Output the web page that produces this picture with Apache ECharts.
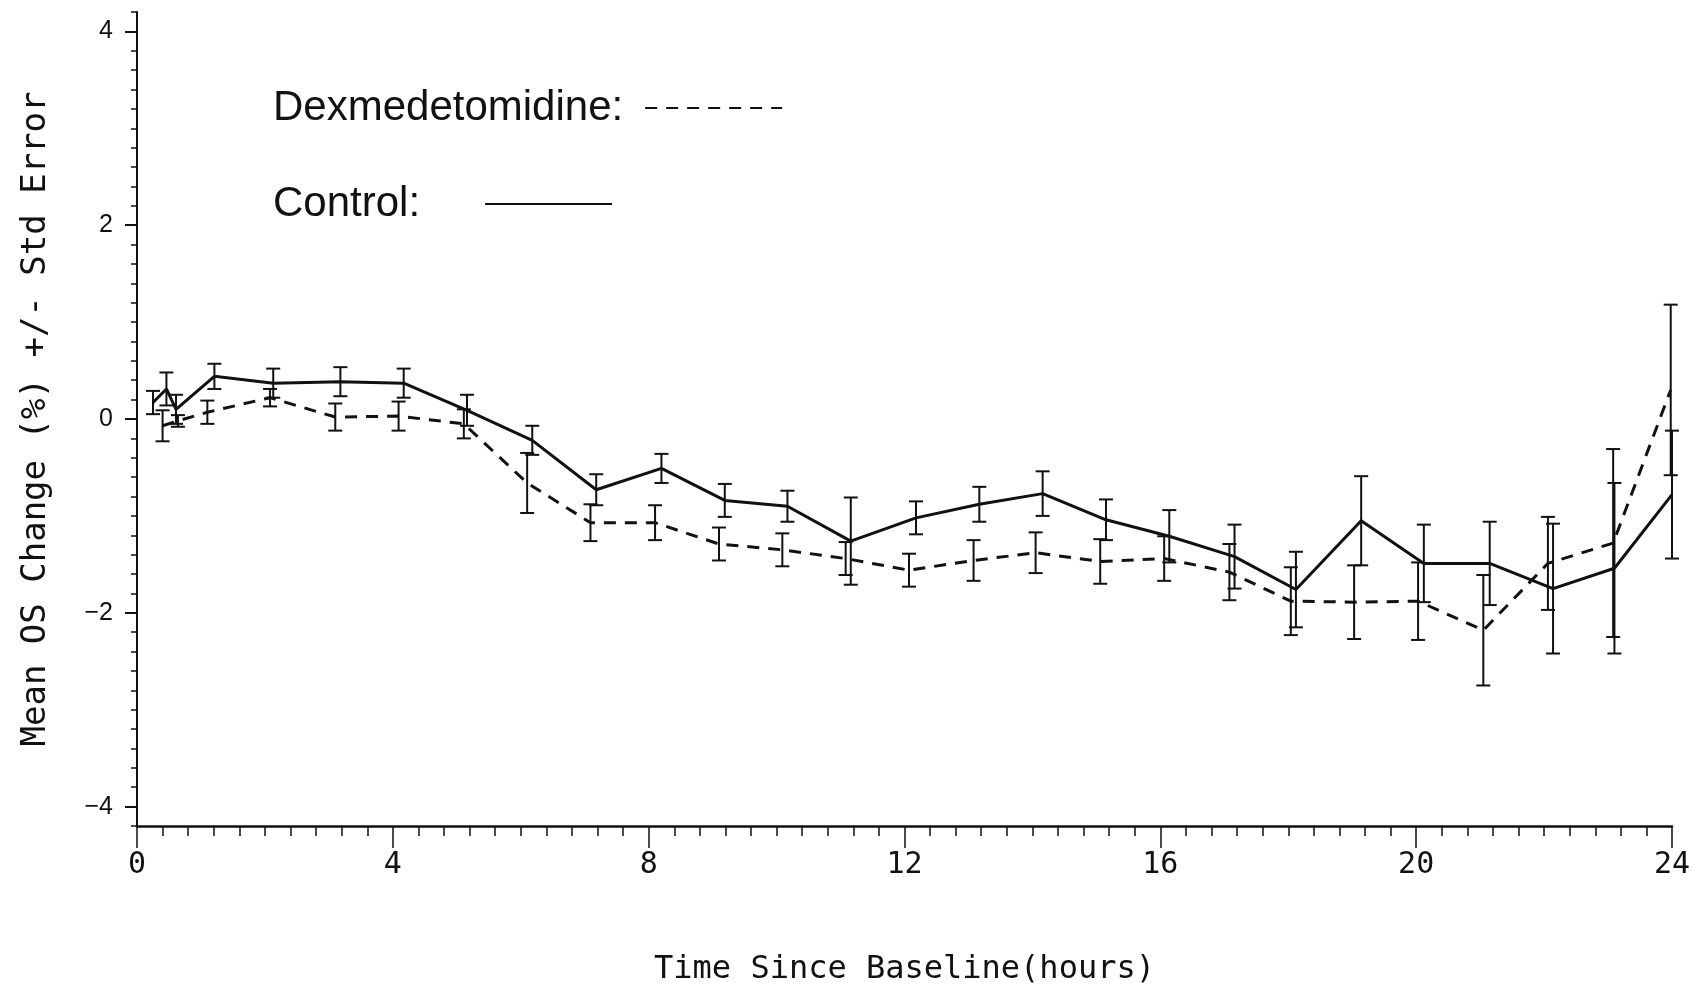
<!DOCTYPE html>
<html>

<head>
  <meta charset="UTF-8">
  <title>Mean OS Change</title>
  <script src="https://cdn.jsdelivr.net/npm/echarts@6.0.0/dist/echarts.min.js"></script>
  <style>
    html, body { margin: 0; padding: 0; background: #fff; }
    #chart { width: 1693px; height: 985px; }
  </style>
</head>

<body>
  <div id="chart"></div>
  <script>
    // values: time since baseline (h), mean OS change (%), std error
    const dexTime = [0.40, 0.64, 1.10, 2.08, 3.10, 4.09, 5.11, 6.10, 7.09, 8.10, 9.10, 10.09, 11.08, 12.07, 13.08, 14.05, 15.06, 16.06, 17.08, 18.04, 19.03, 20.03, 21.05, 22.06, 23.08, 23.98];
    const dexMean = [-0.07, -0.02, 0.07, 0.22, 0.02, 0.03, -0.05, -0.66, -1.07, -1.07, -1.29, -1.35, -1.44, -1.56, -1.46, -1.38, -1.47, -1.44, -1.58, -1.88, -1.89, -1.88, -2.18, -1.49, -1.28, 0.30];
    const dexSE = [0.16, 0.06, 0.12, 0.09, 0.14, 0.15, 0.15, 0.31, 0.19, 0.18, 0.17, 0.17, 0.17, 0.17, 0.21, 0.21, 0.23, 0.23, 0.29, 0.35, 0.38, 0.40, 0.57, 0.48, 0.97, 0.88];

    const ctrlTime = [0.25, 0.46, 0.61, 1.21, 2.13, 3.18, 4.17, 5.16, 6.18, 7.18, 8.20, 9.19, 10.17, 11.16, 12.18, 13.17, 14.16, 15.15, 16.14, 17.16, 18.12, 19.14, 20.12, 21.15, 22.14, 23.10, 24.00];
    const ctrlMean = [0.17, 0.31, 0.10, 0.44, 0.37, 0.385, 0.37, 0.09, -0.22, -0.73, -0.51, -0.84, -0.90, -1.26, -1.02, -0.88, -0.77, -1.04, -1.21, -1.42, -1.76, -1.05, -1.49, -1.49, -1.75, -1.54, -0.78];
    const ctrlSE = [0.12, 0.17, 0.15, 0.13, 0.15, 0.15, 0.15, 0.16, 0.15, 0.16, 0.15, 0.17, 0.16, 0.45, 0.17, 0.18, 0.23, 0.21, 0.27, 0.33, 0.39, 0.46, 0.40, 0.43, 0.67, 0.88, 0.66];

    const yTicks = [-4, -2, 0, 2, 4];

    const ink = '#111';
    const monoFont = 'DejaVu Sans Mono';
    const sansFont = 'Liberation Sans';

    function linePoints(t, m) {
      return t.map((x, i) => [x, m[i]]);
    }

    function barPoints(t, m, se) {
      return t.map((x, i) => [x, m[i] - se[i], m[i] + se[i]]);
    }

    // vertical bar with a cap at each end
    function renderErrorBar(params, api) {
      const x = api.value(0);
      const lo = api.coord([x, api.value(1)]);
      const hi = api.coord([x, api.value(2)]);
      const cap = 7;
      const style = { stroke: ink, lineWidth: 2 };
      return {
        type: 'group',
        children: [
          { type: 'line', shape: { x1: lo[0], y1: lo[1], x2: hi[0], y2: hi[1] }, style: style },
          { type: 'line', shape: { x1: lo[0] - cap, y1: lo[1], x2: lo[0] + cap, y2: lo[1] }, style: style },
          { type: 'line', shape: { x1: hi[0] - cap, y1: hi[1], x2: hi[0] + cap, y2: hi[1] }, style: style }
        ]
      };
    }

    const legendText = {
      fontFamily: sansFont,
      fontSize: 42,
      color: ink
    };

    // itemHeight 1 keeps the legend marker down to the bare line
    const option = {
      backgroundColor: '#fff',
      animation: false,
      grid: { left: 137, right: 21, top: 12, bottom: 159, containLabel: false, outerBoundsMode: 'none' },
      legend: [
        {
          data: ['Dexmedetomidine'],
          left: 268, top: 82,
          align: 'right',
          itemWidth: 137, itemHeight: 1,
          selectedMode: false,
          formatter: '{name}:',
          itemStyle: { color: 'transparent', borderWidth: 0 },
          textStyle: Object.assign({ padding: [0, 17, 0, 0] }, legendText)
        },
        {
          data: ['Control'],
          left: 268, top: 178,
          align: 'right',
          itemWidth: 127, itemHeight: 1,
          selectedMode: false,
          formatter: '{name}:',
          itemStyle: { color: 'transparent', borderWidth: 0 },
          textStyle: Object.assign({ padding: [0, 60, 0, 0] }, legendText)
        }
      ],
      xAxis: {
        type: 'value',
        min: 0, max: 24, interval: 4,
        name: 'Time Since Baseline(hours)',
        nameLocation: 'middle',
        nameGap: 128,
        nameTextStyle: { fontFamily: monoFont, fontSize: 32, color: ink },
        axisLine: { onZero: false, lineStyle: { color: ink, width: 2.5 } },
        axisTick: { length: 22, lineStyle: { color: ink, width: 1.5 } },
        minorTick: { show: true, splitNumber: 10, length: 10, lineStyle: { color: ink, width: 1.5 } },
        axisLabel: { margin: 24, fontFamily: monoFont, fontSize: 30, color: ink },
        splitLine: { show: false }
      },
      yAxis: [
        {
          type: 'value',
          position: 'left',
          min: -4.2, max: 4.2,
          name: 'Mean OS Change (%) +/- Std Error',
          nameLocation: 'middle',
          nameGap: 84,
          nameTextStyle: { fontFamily: monoFont, fontSize: 34, color: ink },
          axisLine: { show: true, onZero: false, lineStyle: { color: ink, width: 2 } },
          axisTick: { show: true, length: 12, customValues: yTicks, lineStyle: { color: ink, width: 2 } },
          axisLabel: {
            customValues: yTicks,
            margin: 24,
            fontFamily: sansFont,
            fontSize: 25,
            color: ink,
            formatter: v => (v < 0 ? '\u2212' + (-v) : String(v))
          },
          splitLine: { show: false }
        },
        {
          // minor ticks every 0.2
          type: 'value',
          position: 'left',
          min: -4.2, max: 4.2, interval: 0.2,
          axisLine: { show: false, onZero: false },
          axisTick: { show: true, length: 6, lineStyle: { color: ink, width: 1.5 } },
          axisLabel: { show: false },
          splitLine: { show: false }
        }
      ],
      series: [
        {
          name: 'Dexmedetomidine',
          type: 'line',
          symbol: 'none',
          data: linePoints(dexTime, dexMean),
          lineStyle: { color: ink, width: 3, type: [12, 9] },
          itemStyle: { color: ink },
          z: 3
        },
        {
          name: 'Control',
          type: 'line',
          symbol: 'none',
          data: linePoints(ctrlTime, ctrlMean),
          lineStyle: { color: ink, width: 3, type: 'solid' },
          itemStyle: { color: ink },
          z: 3
        },
        {
          name: 'Dex SE',
          type: 'custom',
          renderItem: renderErrorBar,
          encode: { x: 0, y: [1, 2] },
          data: barPoints(dexTime, dexMean, dexSE),
          z: 2
        },
        {
          name: 'Control SE',
          type: 'custom',
          renderItem: renderErrorBar,
          encode: { x: 0, y: [1, 2] },
          data: barPoints(ctrlTime, ctrlMean, ctrlSE),
          z: 2
        }
      ]
    };

    const chart = echarts.init(document.getElementById('chart'));
    chart.setOption(option);
  </script>
</body>

</html>
